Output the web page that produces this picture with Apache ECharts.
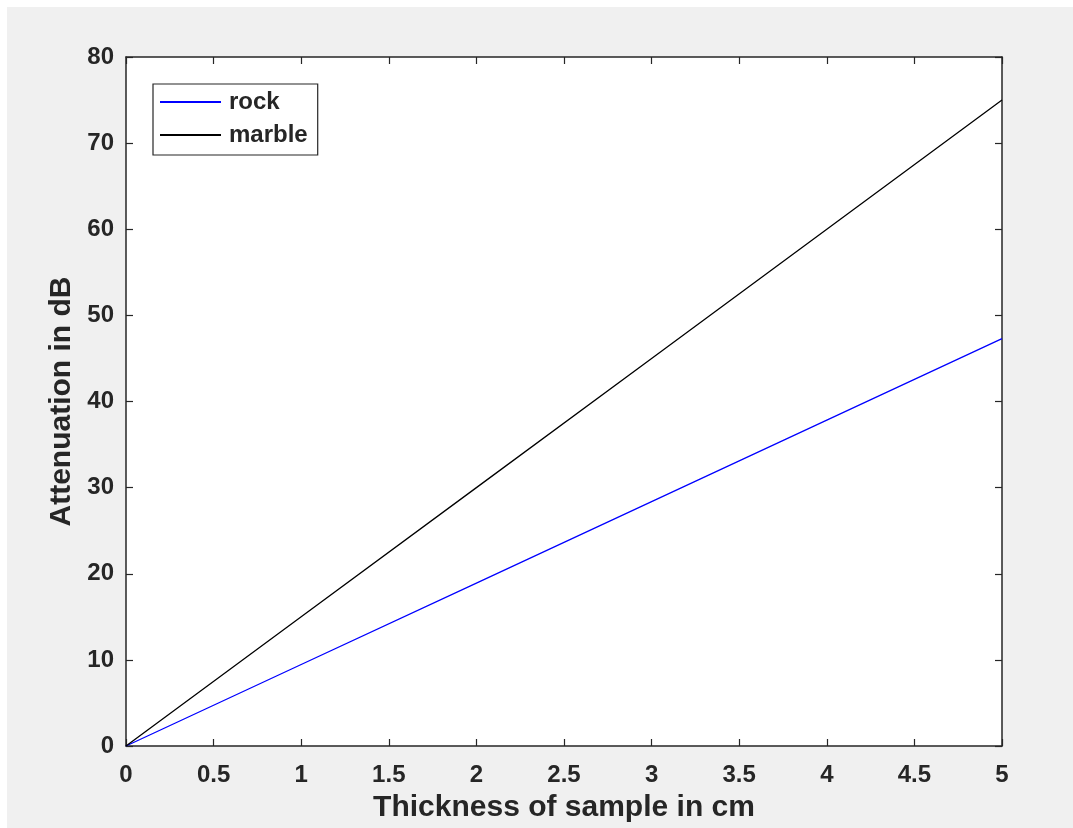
<!DOCTYPE html>
<html>
<head>
<meta charset="utf-8">
<script src="https://cdn.jsdelivr.net/npm/echarts@6/dist/echarts.min.js"></script>
<style>
  html, body { margin: 0; padding: 0; background: #ffffff; }
  #chart { position: absolute; left: 7px; top: 7px; width: 1066px; height: 821px; background: #f0f0f0; }
</style>
</head>
<body>
<div id="chart"></div>
<script>
// Sample thickness (cm) and measured attenuation (dB)
const thickness = [0, 1, 2, 3, 4, 5];
const rock = [0, 9.46, 18.92, 28.38, 37.84, 47.3];
const marble = [0, 15, 30, 45, 60, 75];
const xTicks = [0, 0.5, 1, 1.5, 2, 2.5, 3, 3.5, 4, 4.5, 5];
const yTicks = [0, 10, 20, 30, 40, 50, 60, 70, 80];

const ink = '#262626';
const font = '"Liberation Sans", Arial, Helvetica, sans-serif';

const chart = echarts.init(document.getElementById('chart'));

const pairs = (xs, ys) => xs.map((x, i) => [x, ys[i]]);

const boxAxis = (extra) => Object.assign({
  type: 'value',
  axisLine: { show: true, onZero: false, lineStyle: { color: ink, width: 1.5 } },
  axisTick: { show: true, inside: true, length: 7, lineStyle: { color: ink, width: 1.2 } },
  splitLine: { show: false }
}, extra);

chart.setOption({
  animation: false,
  textStyle: { fontFamily: font },
  grid: { left: 119, top: 50, right: 71, bottom: 82, show: true, backgroundColor: '#ffffff', borderWidth: 0 },
  legend: {
    left: 146, top: 77,
    orient: 'vertical',
    backgroundColor: '#ffffff',
    borderColor: ink, borderWidth: 1.2, borderRadius: 0,
    padding: [4, 10, 6, 7],
    itemGap: 5,
    itemWidth: 61, itemHeight: 2,
    icon: 'rect',
    textStyle: { color: ink, fontSize: 24, fontWeight: 'bold', fontFamily: font, lineHeight: 24, padding: [4, 0, 0, 3] },
    data: ['rock', 'marble']
  },
  xAxis: [
    boxAxis({
      position: 'bottom', min: xTicks[0], max: xTicks[xTicks.length - 1], interval: 0.5,
      name: 'Thickness of sample in cm', nameLocation: 'middle', nameGap: 47,
      nameTextStyle: { color: ink, fontSize: 30, fontWeight: 'bold', fontFamily: font },
      axisLabel: { color: ink, fontSize: 24, fontWeight: 'bold', fontFamily: font, margin: 17 }
    }),
    boxAxis({
      position: 'top', min: xTicks[0], max: xTicks[xTicks.length - 1], interval: 0.5,
      axisLabel: { show: false }
    })
  ],
  yAxis: [
    boxAxis({
      position: 'left', min: yTicks[0], max: yTicks[yTicks.length - 1], interval: 10,
      name: 'Attenuation in dB', nameLocation: 'middle', nameGap: 49,
      nameTextStyle: { color: ink, fontSize: 30, fontWeight: 'bold', fontFamily: font },
      axisLabel: { color: ink, fontSize: 24, fontWeight: 'bold', fontFamily: font, margin: 12 }
    }),
    boxAxis({
      position: 'right', min: yTicks[0], max: yTicks[yTicks.length - 1], interval: 10,
      axisLabel: { show: false }
    })
  ],
  series: [
    {
      name: 'rock', type: 'line', showSymbol: false, symbol: 'none',
      lineStyle: { color: '#0000ff', width: 1.3 }, itemStyle: { color: '#0000ff' },
      data: pairs(thickness, rock)
    },
    {
      name: 'marble', type: 'line', showSymbol: false, symbol: 'none',
      lineStyle: { color: '#000000', width: 1.3 }, itemStyle: { color: '#000000' },
      data: pairs(thickness, marble)
    }
  ]
});
</script>
</body>
</html>
